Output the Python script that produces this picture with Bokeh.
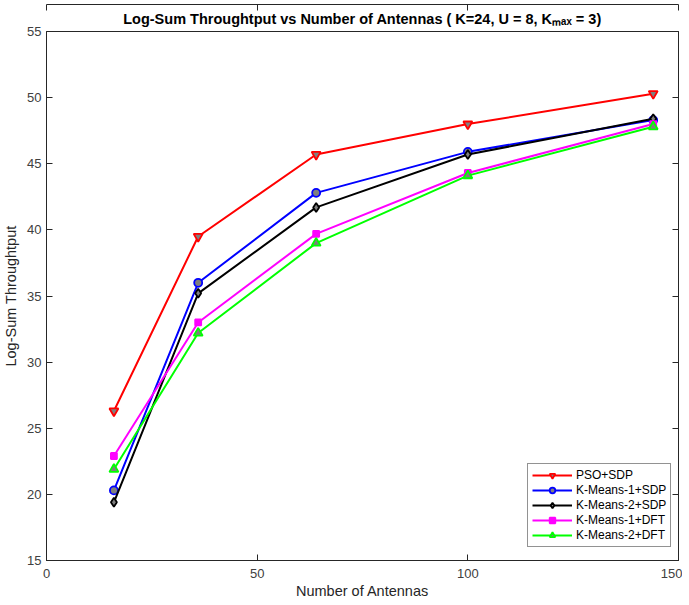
from bokeh.plotting import figure
from bokeh.models import Range1d, LinearAxis, Legend, LegendItem, Title, CustomLabelingPolicy
from bokeh.embed import file_html
from bokeh.resources import INLINE

antennas = [16, 36, 64, 100, 144]
pso_sdp = [26.3, 39.5, 45.7, 48.0, 50.3]
km1_sdp = [20.3, 36.0, 42.8, 45.9, 48.3]
km2_sdp = [19.4, 35.2, 41.7, 45.7, 48.4]
km1_dft = [22.9, 33.0, 39.7, 44.3, 48.0]
km2_dft = [21.9, 32.2, 39.0, 44.1, 47.8]

x_ticks = [0, 50, 100, 150]
y_ticks = [15, 20, 25, 30, 35, 40, 45, 50, 55]

FONT = "Liberation Sans"
TICK_COLOR = "#404040"

p = figure(frame_width=632, frame_height=529, output_backend="svg", toolbar_location=None,
           x_range=Range1d(0, 150), y_range=Range1d(15, 55),
           min_border_left=38, min_border_right=3, min_border_top=22, min_border_bottom=0)

p.title = None
title = Title(text="Log-Sum Throughtput vs Number of Antennas ( K=24, U = 8, K\u2098\u2090\u2093 = 3)",
              align="center", text_font=FONT, text_font_size="14.5px", text_font_style="bold",
              text_color="black", standoff=9)
p.add_layout(title, "above")

p.xgrid.visible = False
p.ygrid.visible = False
p.outline_line_color = "#262626"
p.outline_line_width = 1
p.background_fill_color = "white"
p.border_fill_color = "white"

def style_axis(ax, hidden=False):
    ax.major_tick_in = 6
    ax.major_tick_out = 0
    ax.minor_tick_line_color = None
    ax.axis_line_color = "#262626"
    ax.major_tick_line_color = "#262626"
    ax.major_label_text_font = FONT
    ax.major_label_text_font_size = "1px" if hidden else "13px"
    ax.major_label_text_color = TICK_COLOR
    ax.axis_label_text_font = FONT
    ax.axis_label_text_font_size = "14.5px"
    ax.axis_label_text_font_style = "normal"
    ax.axis_label_text_color = "#262626"
    if hidden:
        ax.major_label_standoff = 0
        ax.major_label_policy = CustomLabelingPolicy(code="return []")

p.xaxis.ticker = x_ticks
p.yaxis.ticker = y_ticks
p.xaxis.axis_label = "Number of Antennas"
p.yaxis.axis_label = "Log-Sum Throughtput"
style_axis(p.xaxis[0])
style_axis(p.yaxis[0])
p.xaxis.major_label_standoff = 8
p.yaxis.major_label_standoff = 5
p.xaxis.axis_label_standoff = 2
p.yaxis.axis_label_standoff = 5

ra = LinearAxis(ticker=y_ticks)
style_axis(ra, hidden=True)
p.add_layout(ra, "right")
ta = LinearAxis(ticker=x_ticks)
style_axis(ta, hidden=True)
p.add_layout(ta, "above")

GRAYFILL = "#7f7f7f"
series = [
    ("PSO+SDP", pso_sdp, "#ff0000", "inverted_triangle", GRAYFILL, 9),
    ("K-Means-1+SDP", km1_sdp, "#0000ff", "circle", GRAYFILL, 8),
    ("K-Means-2+SDP", km2_sdp, "#000000", "diamond", GRAYFILL, 9),
    ("K-Means-1+DFT", km1_dft, "#ff00ff", "square", "#ff00ff", 6),
    ("K-Means-2+DFT", km2_dft, "#00ff00", "triangle", GRAYFILL, 9),
]

items = []
for name, ys, col, mk, fill, sz in series:
    l = p.line(antennas, ys, line_color=col, line_width=2)
    m = p.scatter(antennas, ys, marker=mk, size=sz, line_color=col, line_width=1.8, fill_color=fill)
    items.append(LegendItem(label=name, renderers=[l, m]))

legend = Legend(items=items, location=(481, 13),
                label_text_font=FONT, label_text_font_size="12px", label_text_color="black",
                border_line_color="#262626", border_line_width=1,
                background_fill_color="white", background_fill_alpha=1,
                glyph_width=40, glyph_height=14, label_height=14, spacing=1,
                padding=4, margin=0, label_standoff=4)
p.add_layout(legend, "center")

open("out.html", "w").write(file_html(p, INLINE))
